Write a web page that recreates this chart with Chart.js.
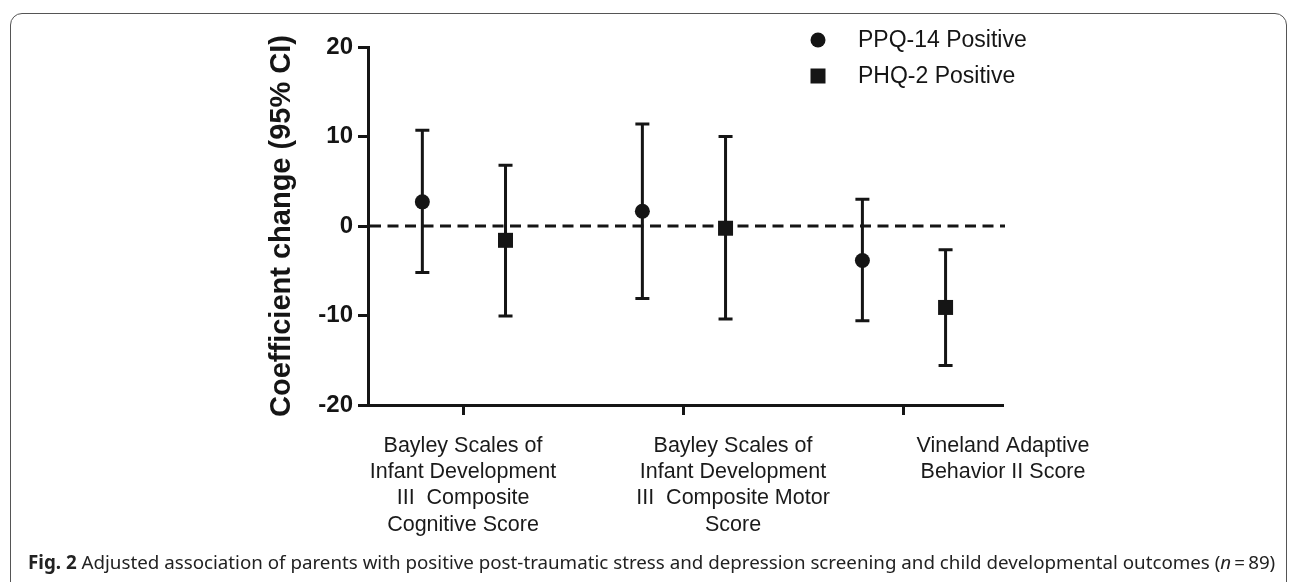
<!DOCTYPE html>
<html>
<head>
<meta charset="utf-8">
<script src="https://cdn.jsdelivr.net/npm/chart.js@4.4.1/dist/chart.umd.min.js"></script>
<style>
  html, body { margin: 0; padding: 0; background: #fff; width: 1292px; height: 582px; overflow: hidden; }
  #frame { position: absolute; left: 10px; top: 13px; width: 1277px; height: 640px; border: 1.5px solid #555; border-radius: 12px; box-sizing: border-box; }
  #wrap { position: absolute; left: 0; top: 0; width: 1292px; height: 582px; }
  #caption { position: absolute; left: 28px; top: 549px; font-family: "Noto Sans", sans-serif; font-size: 16px; color: #222; white-space: nowrap; }
  #caption b { font-weight: 700; }
</style>
</head>
<body>
<div id="frame"></div>
<div id="wrap"><canvas id="chart" width="1292" height="582"></canvas></div>
<div id="caption"><b>Fig. 2</b> Adjusted association of parents with positive post-traumatic stress and depression screening and child developmental outcomes (<i>n</i>&#8201;=&#8201;89)</div>

<script>
// outcome categories (multi-line tick labels)
const categories = [
  ["Bayley Scales of", "Infant Development", "III  Composite", "Cognitive Score"],
  ["Bayley Scales of", "Infant Development", "III  Composite Motor", "Score"],
  ["Vineland Adaptive", "Behavior II Score"]
];
const seriesLabels = ["PPQ-14 Positive", "PHQ-2 Positive"];

// coefficient change and 95% CI
const ppqEstimate = [2.7, 1.65, -3.85];
const ppqLower = [-5.2, -8.1, -10.6];
const ppqUpper = [10.7, 11.4, 3.0];

const phqEstimate = [-1.6, -0.25, -9.1];
const phqLower = [-10.05, -10.4, -15.6];
const phqUpper = [6.8, 10.0, -2.65];

const yTicks = [-20, -10, 0, 10, 20];

const INK = "#151515";
const FONT = "'Liberation Sans', Arial, sans-serif";
const groupShift = [-0.189, 0.189];

function points(values, shift) {
  return values.map((v, i) => ({ x: i + shift, y: v }));
}

// dashed reference line at 0
const zeroLine = {
  id: "zeroLine",
  beforeDatasetsDraw(chart) {
    const { ctx, chartArea, scales } = chart;
    const y = scales.y.getPixelForValue(0);
    ctx.save();
    ctx.strokeStyle = INK;
    ctx.lineWidth = 3;
    ctx.setLineDash([11, 6.5]);
    ctx.beginPath();
    ctx.moveTo(chartArea.left + 2, y);
    ctx.lineTo(chartArea.right + 2, y);
    ctx.stroke();
    ctx.restore();
  }
};

// vertical CI bars with caps
const errorBars = {
  id: "errorBars",
  beforeDatasetsDraw(chart) {
    const { ctx, scales } = chart;
    ctx.save();
    ctx.strokeStyle = INK;
    ctx.lineWidth = 3;
    chart.data.datasets.forEach((ds, d) => {
      const meta = chart.getDatasetMeta(d);
      meta.data.forEach((el, i) => {
        const x = el.x;
        const lo = scales.y.getPixelForValue(ds.lower[i]);
        const hi = scales.y.getPixelForValue(ds.upper[i]);
        ctx.beginPath();
        ctx.moveTo(x, lo);
        ctx.lineTo(x, hi);
        ctx.moveTo(x - 7, lo);
        ctx.lineTo(x + 7, lo);
        ctx.moveTo(x - 7, hi);
        ctx.lineTo(x + 7, hi);
        ctx.stroke();
      });
    });
    ctx.restore();
  }
};

// legend in the top right of the plot
const sideLegend = {
  id: "sideLegend",
  afterDraw(chart) {
    const { ctx } = chart;
    ctx.save();
    ctx.fillStyle = INK;
    ctx.font = "23px " + FONT;
    ctx.textBaseline = "middle";
    chart.data.datasets.forEach((ds, d) => {
      const x = 818, y = 40 + d * 36;
      ctx.beginPath();
      if (ds.pointStyle === "rect") ctx.rect(x - 7.5, y - 7.5, 15, 15);
      else ctx.arc(x, y, 7.5, 0, Math.PI * 2);
      ctx.fill();
      ctx.fillText(ds.label, 858, y + 1);
    });
    ctx.restore();
  }
};

const axisLook = {
  grid: { drawOnChartArea: false, drawTicks: true, tickLength: 10, tickWidth: 3, tickColor: INK },
  border: { display: true, width: 3, color: INK }
};

new Chart(document.getElementById("chart"), {
  type: "scatter",
  data: {
    datasets: [
      {
        label: seriesLabels[0],
        data: points(ppqEstimate, groupShift[0]),
        lower: ppqLower, upper: ppqUpper,
        pointStyle: "circle", pointRadius: 7.5,
        backgroundColor: INK, borderWidth: 0
      },
      {
        label: seriesLabels[1],
        data: points(phqEstimate, groupShift[1]),
        lower: phqLower, upper: phqUpper,
        pointStyle: "rect", pointRadius: 10.6,
        backgroundColor: INK, borderWidth: 0
      }
    ]
  },
  options: {
    responsive: false,
    animation: false,
    events: [],
    layout: { padding: { left: 265, top: 47, right: 289, bottom: 0 } },
    plugins: { legend: { display: false }, tooltip: { enabled: false } },
    scales: {
      x: {
        type: "linear",
        min: -0.436,
        max: 2.45,
        weight: 0,
        ...axisLook,
        afterBuildTicks: (s) => { s.ticks = categories.map((c, i) => ({ value: i })); },
        afterFit: (s) => { s.height = 12; },
        ticks: { display: false }
      },
      // the outcome labels sit on a slightly wider spacing than the tick marks
      xLabels: {
        type: "linear",
        position: "bottom",
        weight: 1,
        min: -0.352,
        max: 2,
        grid: { display: false, drawTicks: false },
        border: { display: false },
        afterBuildTicks: (s) => { s.ticks = categories.map((c, i) => ({ value: i })); },
        afterFit: (s) => { s.height = 165; },
        ticks: {
          autoSkip: false,
          maxRotation: 0,
          padding: 16,
          color: "#1a1a1a",
          font: { family: FONT, size: 21.5, lineHeight: 1.22 },
          callback: (v) => categories[v]
        }
      },
      y: {
        min: -20,
        max: 20,
        ...axisLook,
        afterBuildTicks: (s) => { s.ticks = yTicks.map((v) => ({ value: v })); },
        afterFit: (s) => { s.width = 103; },
        ticks: {
          padding: 5,
          color: INK,
          font: { family: FONT, size: 24, weight: "bold" }
        },
        title: {
          display: true,
          text: "Coefficient change (95% CI)",
          color: INK,
          padding: 0,
          font: { family: FONT, size: 29, weight: "bold" }
        }
      }
    }
  },
  plugins: [zeroLine, errorBars, sideLegend]
});

// stretch the caption across the frame
const cap = document.getElementById("caption");
const target = 1247;
cap.style.fontSize = (16 * target / cap.offsetWidth).toFixed(2) + "px";
</script>
</body>
</html>
